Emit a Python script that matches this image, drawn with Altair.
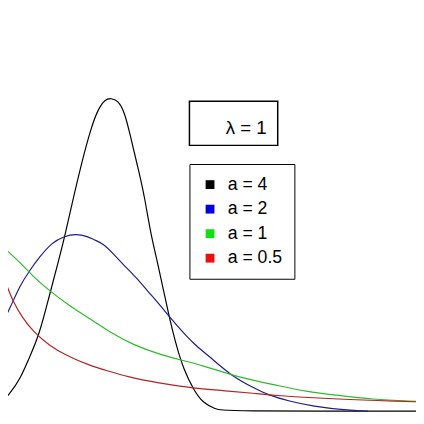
import altair as alt
import pandas as pd

# Weibull densities, lambda = 1
a4_t = [0.266, 0.325, 0.384, 0.442, 0.501, 0.560, 0.619, 0.660, 0.695, 0.754, 0.813, 0.854, 0.895, 0.931,
        0.972, 1.013, 1.048, 1.090, 1.131, 1.166, 1.219, 1.278, 1.325, 1.366, 1.425, 1.484, 1.560, 1.601, 2.760]
a4_f = [0.034, 0.087, 0.154, 0.264, 0.375, 0.563, 0.745, 0.880, 1.010, 1.216, 1.394, 1.481, 1.529, 1.534,
        1.524, 1.466, 1.346, 1.202, 1.058, 0.880, 0.697, 0.466, 0.313, 0.207, 0.106, 0.038, 0.010, 0.000, 0.000]

a2_t = [0.266, 0.325, 0.384, 0.442, 0.501, 0.578, 0.648, 0.719, 0.795, 0.825, 0.884, 0.942, 1.001, 1.078,
        1.148, 1.207, 1.278, 1.354, 1.431, 1.513, 1.660, 1.795, 1.866, 2.001, 2.142, 2.337, 2.472]
a2_f = [0.409, 0.505, 0.615, 0.688, 0.755, 0.827, 0.856, 0.870, 0.856, 0.841, 0.822, 0.774, 0.721, 0.659,
        0.591, 0.538, 0.466, 0.394, 0.327, 0.274, 0.168, 0.111, 0.082, 0.048, 0.024, 0.005, 0.000]

a1_t = [0.266, 0.384, 0.460, 0.560, 0.678, 0.795, 0.825, 0.942, 1.060, 1.219, 1.354, 1.472, 1.707, 1.907,
        2.101, 2.295, 2.495, 2.760]
a1_f = [0.817, 0.731, 0.663, 0.591, 0.519, 0.457, 0.442, 0.378, 0.327, 0.279, 0.250, 0.226, 0.163, 0.130,
        0.096, 0.077, 0.058, 0.048]

a05_t = [0.266, 0.307, 0.342, 0.401, 0.460, 0.560, 0.660, 0.795, 0.913, 1.031, 1.207, 1.401, 1.601, 1.795,
         1.907, 2.295, 2.689, 2.760]
a05_f = [0.697, 0.615, 0.538, 0.457, 0.394, 0.322, 0.274, 0.226, 0.197, 0.168, 0.139, 0.115, 0.101, 0.087,
         0.077, 0.058, 0.048, 0.046]

a_values = ["4", "2", "1", "0.5"]
series_names = ["a = 4", "a = 2", "a = 1", "a = 0.5"]
line_colors = ["#000000", "#1c1c8a", "#2cbb2c", "#b02424"]
legend_colors = ["#000000", "#0000e0", "#10e010", "#e81010"]
lambda_label = "λ = 1"

rows = []
for av, name, ts, fs in zip(a_values, series_names, [a4_t, a2_t, a1_t, a05_t], [a4_f, a2_f, a1_f, a05_f]):
    for t, f in zip(ts, fs):
        rows.append({"t": t, "f": f, "series": name, "a": av})
df = pd.DataFrame(rows)

x_enc = alt.X("t:Q", axis=None, scale=alt.Scale(domain=[0.3131, 2.7601], nice=False, zero=False))
y_enc = alt.Y("f:Q", axis=None, scale=alt.Scale(domain=[-0.0433, 1.9567], nice=False, zero=False))

lines = alt.Chart(df).mark_line(strokeWidth=1.2, clip=True, interpolate="basis").encode(
    x=x_enc,
    y=y_enc,
    color=alt.Color("series:N", scale=alt.Scale(domain=series_names, range=line_colors), legend=None),
)

# legend-only layer: no rows drawn, the fill scale's fixed domain gives the legend entries
legend_layer = alt.Chart(df).transform_filter("false").mark_square(opacity=1).encode(
    x=x_enc,
    y=y_enc,
    fill=alt.Fill(
        "a:N",
        title=None,
        scale=alt.Scale(domain=a_values, range=legend_colors),
        legend=alt.Legend(
            orient="none",
            legendX=185,
            legendY=155,
            symbolType="square",
            symbolSize=81,
            symbolStrokeWidth=0,
            symbolOpacity=1,
            padding=12,
            rowPadding=7,
            labelOffset=9,
            labelExpr="'a = ' + datum.label",
            labelFont="Liberation Sans",
            labelFontSize=18,
            labelColor="#000000",
            labelLimit=200,
            strokeColor="#000000",
            fillColor="#ffffff",
        ),
    ),
)

box_df = pd.DataFrame({"label": [lambda_label]})
lam_box = alt.Chart(box_df).mark_rect(fill="#ffffff", stroke="#000000", strokeWidth=1.5).encode(
    x=alt.value(185), x2=alt.value(275), y=alt.value(91), y2=alt.value(136)
)
lam_text = alt.Chart(box_df).mark_text(
    align="left", baseline="alphabetic", font="Liberation Sans", fontSize=19, color="#000000"
).encode(x=alt.value(222), y=alt.value(124), text="label:N")

chart = alt.layer(lines, legend_layer, lam_box, lam_text).properties(
    width=416, height=416, padding=0, autosize=alt.AutoSizeParams(type="none")
).configure_view(stroke=None)

chart.save("out.html", embed_options={"renderer": "svg", "actions": False})
